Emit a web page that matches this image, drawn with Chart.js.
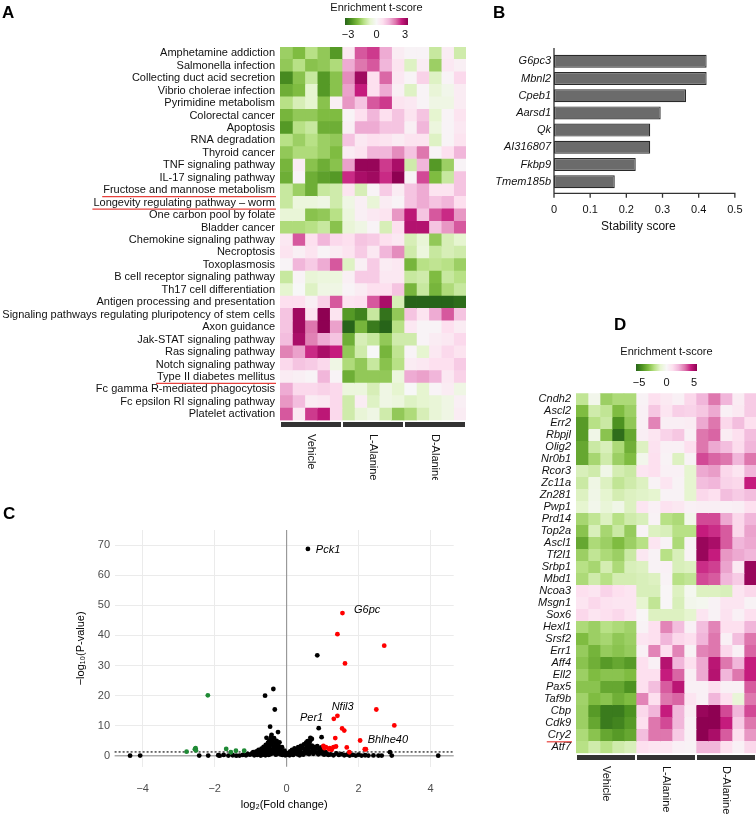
<!DOCTYPE html>
<html><head><meta charset="utf-8">
<script src="https://cdn.jsdelivr.net/npm/chart.js@4.4.1/dist/chart.umd.min.js"></script>
<style>
html,body{margin:0;padding:0;background:#fff;}
body{width:756px;height:815px;position:relative;overflow:hidden;}
canvas{position:absolute;}
</style></head><body>
<canvas id="cA" width="470" height="480" style="left:0;top:0"></canvas>
<canvas id="cB" width="286" height="250" style="left:470px;top:0"></canvas>
<canvas id="cC" width="470" height="335" style="left:0;top:480px"></canvas>
<canvas id="cD" width="276" height="515" style="left:480px;top:300px"></canvas>
<script>
// ---------------- DATA ----------------
const groups = ['Vehicle', 'L-Alanine', 'D-Alanine'];

const pathwaysA = ['Amphetamine addiction','Salmonella infection','Collecting duct acid secretion','Vibrio cholerae infection','Pyrimidine metabolism','Colorectal cancer','Apoptosis','RNA degradation','Thyroid cancer','TNF signaling pathway','IL-17 signaling pathway','Fructose and mannose metabolism','Longevity regulating pathway \u2013 worm','One carbon pool by folate','Bladder cancer','Chemokine signaling pathway','Necroptosis','Toxoplasmosis','B cell receptor signaling pathway','Th17 cell differentiation','Antigen processing and presentation','Signaling pathways regulating pluripotency of stem cells','Axon guidance','Jak-STAT signaling pathway','Ras signaling pathway','Notch signaling pathway','Type II diabetes mellitus','Fc gamma R-mediated phagocytosis','Fc epsilon RI signaling pathway','Platelet activation'];
const underlinedA = ['Fructose and mannose metabolism','Longevity regulating pathway \u2013 worm','Type II diabetes mellitus'];

const A_vehicle = [[-1.5,-1.8,-1.2,-1.6,-2.3],[-1.6,-1.2,-1.7,-1.6,-1.3],[-2.5,-1.7,-1.0,-2.3,-1.7],[-2.0,-1.8,-0.6,-2.3,-1.7],[-1.2,-0.8,-0.6,-1.7,0.2],[-1.9,-1.6,-1.6,-1.8,-1.8],[-2.3,-1.2,-1.0,-2.0,-2.0],[-1.2,-1.5,-1.2,-1.5,-1.6],[-1.6,-1.3,-1.3,-1.5,-1.8],[-1.9,0.3,-1.7,-2.0,-1.7],[-2.0,0.1,-2.0,-2.2,-2.3],[-1.0,-1.5,-2.0,-1.0,-0.9],[-1.0,-0.4,-0.4,-0.3,-0.9],[-0.5,-0.5,-1.7,-1.6,-1.2],[-1.3,-1.3,-1.2,-1.0,-1.7],[0.4,2.0,0.6,1.2,0.7],[0.5,0.2,0.5,0.1,0.3],[0.1,1.2,0.9,1.3,2.0],[-1.0,0.1,-0.5,-0.4,-0.4],[-0.6,0.0,-0.7,-0.3,-0.3],[0.6,0.6,0.2,0.8,2.0],[1.0,2.8,0.5,3.0,0.5],[1.0,2.8,1.8,3.0,1.4],[1.1,2.7,1.7,1.3,1.0],[1.7,1.4,2.3,2.7,2.4],[0.7,1.0,0.9,0.7,-0.3],[0.3,0.2,0.1,1.2,0.1],[1.3,0.7,0.7,0.8,0.7],[1.5,1.1,0.3,0.4,0.7],[2.0,0.4,2.2,2.5,0.7]];
const A_lAlanine = [[0.4,2.0,2.2,1.3,0.3],[1.3,1.8,2.0,1.2,0.5],[1.6,2.8,0.6,1.9,0.4],[1.4,2.4,0.6,1.3,0.2],[1.5,1.0,2.0,2.2,0.5],[0.1,0.6,1.2,0.6,1.0],[0.2,1.3,1.3,1.0,1.0],[1.0,0.4,0.6,0.5,0.3],[0.3,0.5,1.2,1.2,1.6],[1.4,2.9,2.9,2.2,2.7],[2.3,2.7,2.8,2.3,3.0],[0.5,-0.8,0.1,0.9,0.3],[-0.3,0.2,-0.5,0.3,0.1],[-0.4,0.2,0.4,0.5,1.5],[-0.5,-0.3,0.1,-0.8,0.6],[0.6,1.0,0.9,0.6,0.4],[0.5,0.9,0.4,1.2,1.6],[-0.7,0.2,0.9,0.3,0.4],[0.2,0.9,0.9,0.4,0.4],[0.1,0.3,0.6,0.6,1.0],[0.5,0.6,2.0,2.7,-0.8],[-2.3,-2.6,-1.0,-2.8,-1.6],[-3.0,-1.9,-2.7,-3.0,-1.2],[-2.0,-0.8,-1.0,-1.6,-0.9],[-1.6,-0.9,0.0,-1.9,-1.1],[-1.3,-1.6,-1.0,-1.7,-1.2],[-2.0,-1.6,-1.6,-1.6,-0.4],[-0.4,-0.4,-0.8,-0.3,-0.6],[-0.9,0.3,-0.7,-0.3,-0.4],[-0.9,-0.5,-0.3,-0.9,-1.6]];
const A_dAlanine = [[0.1,0.1,-1.0,0.3,-0.9],[-0.7,0.3,-1.5,0.4,0.2],[0.1,0.8,-0.7,0.1,0.7],[-0.7,0.1,-0.5,-0.2,0.3],[0.4,0.1,-0.3,-0.3,0.3],[0.5,1.0,-0.6,0.1,0.5],[0.2,1.2,-0.4,0.1,0.4],[0.5,0.5,-0.7,0.1,0.5],[1.0,1.8,0.1,0.6,1.2],[-0.9,1.2,-2.3,-1.5,0.1],[0.1,2.1,-1.8,-1.0,1.0],[1.0,1.3,0.5,0.5,1.0],[1.0,1.3,1.0,1.2,0.6],[2.5,1.0,2.0,2.3,1.5],[2.6,2.6,1.0,1.5,2.0],[-0.8,-0.5,-1.6,-0.8,-0.6],[-0.9,-0.4,-1.0,-0.8,-0.9],[-1.9,-1.2,-1.1,-1.2,-1.5],[-1.0,-0.9,-1.8,-1.0,-1.2],[-1.9,-1.0,-1.9,-1.3,-1.0],[-3.0,-3.0,-3.0,-3.0,-2.9],[1.0,0.5,1.3,2.0,1.0],[0.4,0.1,0.1,0.6,0.3],[-0.9,0.1,0.3,0.4,0.7],[0.1,-0.6,0.4,0.7,0.5],[0.3,0.4,0.6,0.6,0.9],[1.3,1.4,1.2,0.4,0.8],[0.0,-0.6,0.1,0.3,-0.3],[-0.7,-0.6,-0.5,-0.3,0.2],[-1.3,-0.8,-0.5,-0.3,0.3]];
const limitA = 3;
const legendTicksA = [-3, 0, 3];

const genesB = ['G6pc3','Mbnl2','Cpeb1','Aarsd1','Qk','AI316807','Fkbp9','Tmem185b'];
const stabilityB = [0.422,0.422,0.365,0.295,0.266,0.266,0.226,0.168];
const ticksB = [0, 0.1, 0.2, 0.3, 0.4, 0.5];

const volcanoBlack = [[0.59,68.7],[0.85,33.4],[-0.37,22.2],[-0.60,20.0],[-0.33,15.4],[-0.46,9.7],[-0.24,7.9],[0.89,9.2],[0.97,6.2],[0.66,6.0],[0.70,5.6],[-0.56,6.0],[-0.42,7.0],
[-4.35,0.05],[-4.07,0.1],[-2.43,0.1],[-2.18,0.1],[-1.90,0.2],[-1.86,0.05],[-1.75,0.3],[-1.62,0.1],[-1.50,0.2],[-1.40,0.05],[-1.31,0.1],[-1.22,0.3],[-1.13,0.2],[-1.08,0.6],
[-1.02,0.4],[-0.96,0.8],[-0.93,1.2],[-0.90,0.2],[-0.87,0.6],[-0.84,1.5],[-0.82,0.3],[-0.80,1.0],[-0.78,2.0],[-0.76,0.5],[-0.74,1.3],[-0.72,0.1],[-0.70,2.4],[-0.69,0.8],[-0.67,1.7],[-0.65,0.4],[-0.64,3.0],[-0.62,1.1],[-0.60,2.2],[-0.59,0.2],[-0.58,3.6],[-0.56,1.5],[-0.55,0.7],[-0.54,2.8],[-0.52,4.3],[-0.51,1.9],[-0.50,0.3],[-0.49,3.3],[-0.48,5.1],[-0.47,2.5],[-0.46,1.2],[-0.45,4.0],[-0.44,0.6],[-0.43,6.3],[-0.42,3.7],[-0.41,2.1],[-0.40,5.5],[-0.39,1.6],[-0.38,4.6],[-0.37,0.9],[-0.36,3.0],[-0.35,5.9],[-0.34,2.4],[-0.33,1.3],[-0.32,4.2],[-0.31,3.5],[-0.30,0.4],[-0.29,2.7],[-0.28,5.0],[-0.27,1.8],[-0.26,3.9],[-0.25,0.8],[-0.24,2.2],[-0.22,3.2],[-0.21,1.1],[-0.20,4.5],[-0.18,0.5],[-0.17,2.0],[-0.15,1.4],[-0.13,2.9],[-0.12,0.3],[-0.10,1.0],[-0.08,0.6],[-0.06,1.7],[-0.04,0.2],[-0.02,0.9],
[0.02,0.4],[0.05,1.0],[0.08,0.2],[0.10,1.5],[0.12,0.6],[0.15,2.0],[0.18,0.3],[0.20,1.2],[0.22,2.5],[0.25,0.8],[0.27,1.8],[0.30,0.5],[0.32,2.9],[0.34,1.4],[0.36,0.2],[0.38,2.2],[0.40,3.3],[0.42,1.0],[0.44,2.7],[0.46,0.4],[0.48,3.8],[0.50,1.7],[0.52,2.4],[0.54,4.4],[0.55,0.9],[0.57,3.1],[0.58,4.9],[0.60,2.0],[0.61,3.6],[0.62,0.6],[0.64,4.6],[0.65,2.8],[0.66,5.3],[0.68,1.3],[0.70,3.4],[0.72,2.3],[0.74,0.7],[0.76,3.0],[0.78,1.6],[0.80,2.6],[0.83,1.1],[0.85,3.2],[0.88,0.5],[0.90,2.1],[0.93,1.4],[0.96,2.8],[0.98,0.8],[1.00,1.9],[1.04,0.4],[1.08,1.2],[1.12,0.6],[1.16,0.3],
[1.22,0.5],[1.30,0.2],[1.38,0.8],[1.45,0.3],[1.52,0.6],[1.60,0.2],[1.68,0.4],[1.75,0.1],[1.84,0.3],[1.92,0.1],[2.00,0.4],[2.08,0.1],[2.18,0.2],[2.27,0.1],[2.41,0.15],[2.55,0.1],[2.64,0.1],[2.87,1.22],[2.92,0.1],[4.21,0.05]];
const volcanoRed = [[1.55,47.4],[1.41,40.4],[2.71,36.6],[1.62,30.7],[2.49,15.4],[1.41,13.3],[1.31,12.3],[2.99,10.1],[1.54,9.1],[1.60,8.4],[1.35,5.9],[2.04,5.1],[1.02,3.3],[1.05,2.55],[1.09,2.9],[1.18,2.2],[1.20,2.55],[1.25,2.0],[1.30,2.9],[1.37,3.1],[1.67,2.8],[1.74,1.2],[2.17,2.2],[2.20,2.2]];
const volcanoGreen = [[-2.19,20.1],[-2.78,1.4],[-2.55,2.2],[-2.52,1.8],[-2.53,2.55],[-1.68,2.3],[-1.55,1.2],[-1.41,1.7],[-1.18,1.7]];
const volcanoLabels = [['Pck1',0.81,68.5],['G6pc',1.87,48.5],['Nfil3',1.25,16.4],['Per1',0.37,12.6],['Bhlhe40',2.25,5.3]];
const pThreshold = 1.3;
const ticksCx = [-4,-2,0,2,4];
const ticksCy = [0,10,20,30,40,50,60,70];

const genesD = ['Cndh2','Ascl2','Err2','Rbpjl','Olig2','Nr0b1','Rcor3','Zc11a','Zn281','Pwp1','Prd14','Top2a','Ascl1','Tf2l1','Srbp1','Mbd1','Ncoa3','Msgn1','Sox6','Hexl1','Srsf2','Err1','Aff4','Ell2','Pax5','Taf9b','Cbp','Cdk9','Cry2','Atf7'];
const underlinedD = ['Cry2'];
const D_vehicle = [[-1.8,-0.3,-2.5,-2.2,-2.2],[-3.0,-1.5,-1.8,-3.0,-2.5],[-3.8,-2.0,-1.6,-4.0,-2.7],[-3.8,-0.4,-2.8,-4.8,-3.5],[-3.5,-1.6,-1.3,-2.2,-3.3],[-3.5,-2.3,-1.5,-2.5,-3.0],[-1.3,-1.5,-0.4,-1.4,-1.6],[-1.6,-0.5,-1.2,-1.8,-1.5],[-1.2,-0.4,-1.0,-1.4,-1.2],[-1.0,-0.3,-0.8,-0.4,-1.2],[-2.3,-1.8,-1.2,-2.0,-1.5],[-2.8,-1.3,-2.3,-1.6,-2.6],[-3.5,-2.2,-2.5,-3.0,-2.5],[-2.5,-1.8,-2.2,-2.5,-1.6],[-2.0,-2.3,-1.4,-2.2,-1.3],[-2.2,-1.5,-2.0,-1.4,-1.4],[1.0,0.8,1.3,1.0,0.8],[0.8,1.2,0.9,0.8,0.8],[1.2,0.8,1.0,1.2,0.8],[-2.2,-2.5,-2.0,-2.2,-2.4],[-3.0,-2.5,-2.3,-2.7,-2.5],[-2.6,-3.2,-2.6,-2.8,-2.6],[-2.8,-3.3,-3.8,-3.5,-3.8],[-2.5,-3.0,-2.8,-2.8,-3.0],[-2.8,-2.8,-3.5,-3.5,-4.0],[-2.4,-3.0,-2.8,-3.3,-3.0],[-2.5,-3.8,-4.5,-4.5,-4.0],[-2.5,-3.5,-4.5,-4.3,-3.8],[-2.2,-2.8,-3.5,-3.8,-3.5],[-2.0,-1.5,-2.0,-1.5,-1.3]];
const D_lAlanine = [[0.2,1.0,0.6,0.3,1.2],[0.3,1.6,0.8,1.4,1.3],[0.3,2.8,0.4,0.4,0.5],[0.4,0.8,1.3,1.6,0.3],[-1.2,0.9,0.3,0.3,1.0],[-0.3,1.0,0.2,-1.2,0.2],[0.8,1.0,0.3,0.3,-1.0],[-1.2,0.2,0.8,0.2,-1.0],[-1.1,-1.0,0.2,0.2,-1.0],[0.8,0.3,0.9,0.7,0.3],[-1.3,0.2,-2.0,-2.2,-0.3],[0.2,-1.2,-1.3,-2.0,-2.0],[-2.0,0.8,0.2,-2.2,0.2],[0.7,0.2,-2.0,-1.3,0.2],[-1.2,0.2,0.3,-1.3,-1.2],[-1.3,-1.2,0.2,-2.0,-1.8],[-1.3,-1.3,0.1,-1.2,-0.2],[-1.0,-1.8,0.1,-1.3,-0.3],[0.1,-1.2,-1.2,-1.2,-1.0],[0.2,1.0,2.8,1.8,0.3],[0.8,1.0,2.0,1.2,1.0],[0.3,2.8,1.0,2.8,0.2],[1.0,0.3,4.3,2.0,1.0],[1.0,1.0,4.0,3.2,0.4],[1.0,1.8,3.3,4.2,0.3],[2.8,1.0,3.0,3.2,0.8],[1.2,2.0,4.0,2.0,0.5],[1.0,3.0,3.5,2.0,0.3],[1.8,3.0,3.0,1.5,0.3],[1.0,0.8,0.8,0.3,0.2]];
const D_dAlanine = [[2.0,3.0,2.0,0.5,1.5],[1.6,2.2,0.3,0.6,1.5],[2.2,3.0,1.2,1.8,1.0],[3.0,3.2,0.5,1.0,1.8],[3.0,2.2,1.8,1.1,2.0],[3.5,3.2,3.0,2.0,3.0],[2.2,2.4,1.2,0.8,2.0],[1.8,2.0,1.3,1.2,4.0],[1.2,1.0,1.8,1.5,1.8],[0.4,0.4,0.3,0.4,1.0],[3.5,3.5,2.2,1.2,2.0],[4.0,3.8,3.3,1.2,2.3],[4.8,4.5,3.3,2.0,2.2],[4.8,4.0,2.5,2.2,2.0],[3.8,3.6,2.3,0.6,4.8],[3.5,3.3,2.0,1.5,4.8],[-1.2,-1.2,-1.3,0.8,1.2],[-0.2,0.2,0.8,0.8,0.2],[0.8,0.2,0.9,0.3,1.0],[1.8,2.8,1.0,1.0,2.0],[2.0,3.0,0.3,1.8,3.0],[2.8,3.0,1.2,0.3,3.2],[2.2,4.2,3.0,2.0,4.0],[2.2,4.3,2.0,3.0,4.0],[0.3,1.0,0.3,0.3,3.3],[0.3,2.0,1.0,-0.8,3.0],[4.8,5.0,3.5,2.0,3.5],[5.0,5.2,4.0,1.5,3.0],[5.0,4.5,3.3,1.0,2.5],[2.0,2.0,1.0,0.3,1.2]];
const limitD = 5;
const legendTicksD = [-5, 0, 5];

// ---------------- HELPERS ----------------
const FONT = '"Liberation Sans", Arial, Helvetica, sans-serif';
Chart.defaults.font.family = FONT;
const STOPS = ['#276419','#4d9221','#7fbc41','#b8e186','#e6f5d0','#f7f7f7','#fde0ef','#f1b6da','#de77ae','#c51b7d','#8e0152'];
function hexRGB(h){return [parseInt(h.slice(1,3),16),parseInt(h.slice(3,5),16),parseInt(h.slice(5,7),16)];}
function piyg(v, lim){
  const t = (Math.max(-lim, Math.min(lim, v)) / lim + 1) / 2 * 10;
  const i = Math.min(9, Math.floor(t)), f = t - i;
  const a = hexRGB(STOPS[i]), b = hexRGB(STOPS[i+1]);
  return 'rgb(' + a.map((c,k)=>Math.round(c + (b[k]-c)*f)).join(',') + ')';
}
function heatDatasets(groupArrays, lim){
  const cols = [];
  groupArrays.forEach(g => { for (let j = 0; j < g[0].length; j++) cols.push(g.map(r => r[j])); });
  return cols.map((col, k) => ({
    label: 'sample ' + (k+1), data: col.map(() => 1),
    backgroundColor: col.map(v => piyg(v, lim)),
    borderWidth: 0, barPercentage: 1, categoryPercentage: 1, stack: 'heat'
  }));
}
function fmtMinus(v){ return v < 0 ? '\u2212' + Math.abs(v) : String(v); }

function drawColorbar(ctx, x0, y0, w, h, lim, ticks, title, titleY, tickY){
  const g = ctx.createLinearGradient(x0, 0, x0 + w, 0);
  STOPS.forEach((c, i) => g.addColorStop(i / 10, c));
  ctx.fillStyle = g; ctx.fillRect(x0, y0, w, h);
  ctx.fillStyle = '#111'; ctx.font = '11px ' + FONT; ctx.textAlign = 'center'; ctx.textBaseline = 'middle';
  ctx.fillText(title, x0 + w / 2, titleY);
  ticks.forEach(v => ctx.fillText(fmtMinus(v), x0 + 3 + (v + lim) / (2 * lim) * (w - 6), tickY));
}
function drawGroups(ctx, xs, yTop, h, labelY){
  ctx.font = '11px ' + FONT;
  groups.forEach((gname, gi) => {
    const a = xs.getPixelForValue(gi * 5), b = xs.getPixelForValue(gi * 5 + 5);
    ctx.fillStyle = '#333';
    ctx.fillRect(a + 1, yTop, b - a - 2, h);
    ctx.save(); ctx.translate((a + b) / 2, labelY); ctx.rotate(Math.PI / 2);
    ctx.fillStyle = '#111'; ctx.textAlign = 'left'; ctx.textBaseline = 'middle';
    ctx.fillText(gname, 0, 0); ctx.restore();
  });
}
function drawUnderlines(ctx, ys, labels, which, font, rightX){
  ctx.font = font; ctx.strokeStyle = '#e8413c'; ctx.lineWidth = 1.2;
  which.forEach(name => {
    const i = labels.indexOf(name); const yc = ys.getPixelForValue(i) + 6.5;
    const w = ctx.measureText(name).width;
    ctx.beginPath(); ctx.moveTo(rightX - w - 1, yc); ctx.lineTo(rightX + 1, yc); ctx.stroke();
  });
}
function letter(ctx, t, x, y){
  ctx.fillStyle = '#000'; ctx.font = 'bold 17px ' + FONT; ctx.textAlign = 'left'; ctx.textBaseline = 'middle';
  ctx.fillText(t, x, y);
}

// ---------------- PANEL A ----------------
new Chart(document.getElementById('cA'), {
  type: 'bar',
  data: { labels: pathwaysA, datasets: heatDatasets([A_vehicle, A_lAlanine, A_dAlanine], limitA) },
  options: {
    indexAxis: 'y', responsive: false, animation: false,
    layout: { padding: { top: 47, bottom: 59.5, left: 0, right: 4 } },
    plugins: { legend: { display: false }, tooltip: { enabled: false } },
    scales: {
      x: { type: 'linear', stacked: true, min: 0, max: 15, display: false },
      y: { stacked: true, grid: { display: false, drawTicks: false }, border: { display: false },
           ticks: { autoSkip: false, color: '#111', font: { size: 11 }, padding: 5 },
           afterFit(s) { s.width = 280; } }
    }
  },
  plugins: [{ id: 'extrasA', afterDraw(chart) {
    const { ctx, scales: { x, y } } = chart; ctx.save();
    letter(ctx, 'A', 2, 13);
    drawColorbar(ctx, 345, 18, 63, 7, limitA, legendTicksA, 'Enrichment t-score', 8, 35);
    drawGroups(ctx, x, 422, 5, 434);
    drawUnderlines(ctx, y, pathwaysA, underlinedA, '11px ' + FONT, 275);
    ctx.restore();
  } }]
});

// ---------------- PANEL B ----------------
new Chart(document.getElementById('cB'), {
  type: 'bar',
  data: { labels: genesB, datasets: [{ data: stabilityB, backgroundColor: '#6b6b6b', borderColor: '#2a2a2a',
          borderWidth: 1.2, borderSkipped: false, barPercentage: 0.756, categoryPercentage: 1 }] },
  options: {
    indexAxis: 'y', responsive: false, animation: false,
    layout: { padding: { top: 52.7, bottom: 0, left: 0, right: 5.3 } },
    plugins: { legend: { display: false }, tooltip: { enabled: false } },
    scales: {
      x: { type: 'linear', min: 0, max: 0.5, grid: { display: false, drawTicks: false }, border: { display: false },
           afterBuildTicks(s) { s.ticks = ticksB.map(v => ({ value: v })); },
           ticks: { color: '#111', font: { size: 11 }, padding: 13.5, callback: v => v === 0 ? '0' : v.toFixed(1) },
           afterFit(s) { s.height = 59.7; } },
      y: { grid: { display: false, drawTicks: false }, border: { display: false },
           ticks: { color: '#111', font: { size: 11, style: 'italic' }, padding: 3 },
           afterFit(s) { s.width = 84; } }
    }
  },
  plugins: [{ id: 'extrasB', afterDraw(chart) {
    const { ctx, scales: { x }, chartArea: ca } = chart; ctx.save();
    letter(ctx, 'B', 23, 13);
    const axY = ca.bottom + 3;
    ctx.strokeStyle = '#333'; ctx.lineWidth = 1.3;
    ctx.beginPath(); ctx.moveTo(ca.left, ca.top - 4.7); ctx.lineTo(ca.left, axY + 4.5);
    ctx.moveTo(ca.left, axY); ctx.lineTo(x.getPixelForValue(0.5) + 0.7, axY);
    ticksB.forEach(v => { const px = x.getPixelForValue(v); ctx.moveTo(px, axY); ctx.lineTo(px, axY + 4.5); });
    ctx.stroke();
    ctx.fillStyle = '#111'; ctx.font = '12px ' + FONT; ctx.textAlign = 'center'; ctx.textBaseline = 'middle';
    ctx.fillText('Stability score', (ca.left + ca.right) / 2 - 6, 227);
    ctx.restore();
  } }]
});

// ---------------- PANEL C ----------------
const pts = arr => arr.map(p => ({ x: p[0], y: p[1] }));
new Chart(document.getElementById('cC'), {
  type: 'scatter',
  data: { datasets: [
    { data: pts(volcanoRed), backgroundColor: '#ff0000', pointRadius: 2.4, borderWidth: 0, order: 1 },
    { data: pts(volcanoGreen), backgroundColor: '#1f8a35', pointRadius: 2.4, borderWidth: 0, order: 2 },
    { data: pts(volcanoBlack), backgroundColor: '#000', pointRadius: 2.4, borderWidth: 0, order: 3 }
  ] },
  options: {
    responsive: false, animation: false,
    layout: { padding: { top: 50, bottom: 0, left: 0, right: 16.3 } },
    plugins: { legend: { display: false }, tooltip: { enabled: false } },
    scales: {
      x: { type: 'linear', min: -4.78, max: 4.64,
           afterBuildTicks(s) { s.ticks = ticksCx.map(v => ({ value: v })); },
           ticks: { color: '#4d4d4d', font: { size: 11 }, padding: 15.5, callback: v => fmtMinus(v) },
           grid: { color: '#ebebeb', lineWidth: 1, drawTicks: false }, border: { display: false },
           afterFit(s) { s.height = 48.3; } },
      y: { type: 'linear', min: -3.6, max: 75,
           afterBuildTicks(s) { s.ticks = ticksCy.map(v => ({ value: v })); },
           ticks: { color: '#4d4d4d', font: { size: 11 }, padding: 4.5 },
           grid: { color: '#ebebeb', lineWidth: 1, drawTicks: false }, border: { display: false },
           afterFit(s) { s.width = 114.6; } }
    }
  },
  plugins: [{ id: 'extrasC',
    beforeDatasetsDraw(chart) {
      const { ctx, scales: { x, y }, chartArea: ca } = chart; ctx.save();
      ctx.strokeStyle = '#8a8a8a'; ctx.lineWidth = 1;
      const x0 = x.getPixelForValue(0), y0 = y.getPixelForValue(0);
      ctx.beginPath(); ctx.moveTo(x0, ca.top); ctx.lineTo(x0, ca.bottom);
      ctx.moveTo(ca.left, y0); ctx.lineTo(ca.right, y0); ctx.stroke();
      const yt = y.getPixelForValue(pThreshold);
      ctx.strokeStyle = '#000'; ctx.setLineDash([2, 2]); ctx.lineWidth = 1.1;
      ctx.beginPath(); ctx.moveTo(ca.left, yt); ctx.lineTo(ca.right, yt); ctx.stroke();
      ctx.restore();
    },
    afterDraw(chart) {
      const { ctx, scales: { x, y }, chartArea: ca } = chart; ctx.save();
      letter(ctx, 'C', 3, 34);
      ctx.fillStyle = '#000'; ctx.font = 'italic 11px ' + FONT; ctx.textAlign = 'left'; ctx.textBaseline = 'middle';
      volcanoLabels.forEach(l => ctx.fillText(l[0], x.getPixelForValue(l[1]), y.getPixelForValue(l[2])));
      ctx.font = '11px ' + FONT; ctx.textAlign = 'center';
      ctx.fillText('log\u2082(Fold change)', (ca.left + ca.right) / 2, 325);
      ctx.save(); ctx.translate(81, (ca.top + ca.bottom) / 2); ctx.rotate(-Math.PI / 2);
      ctx.fillText('\u2212log\u2081\u2080(P-value)', 0, 0); ctx.restore();
      ctx.restore();
    } }]
});

// ---------------- PANEL D ----------------
new Chart(document.getElementById('cD'), {
  type: 'bar',
  data: { labels: genesD, datasets: heatDatasets([D_vehicle, D_lAlanine, D_dAlanine], limitD) },
  options: {
    indexAxis: 'y', responsive: false, animation: false,
    layout: { padding: { top: 93.3, bottom: 61.7, left: 0, right: 0 } },
    plugins: { legend: { display: false }, tooltip: { enabled: false } },
    scales: {
      x: { type: 'linear', stacked: true, min: 0, max: 15, display: false },
      y: { stacked: true, grid: { display: false, drawTicks: false }, border: { display: false },
           ticks: { autoSkip: false, color: '#111', font: { size: 11, style: 'italic' }, padding: 5 },
           afterFit(s) { s.width = 96; } }
    }
  },
  plugins: [{ id: 'extrasD', afterDraw(chart) {
    const { ctx, scales: { x, y } } = chart; ctx.save();
    letter(ctx, 'D', 134, 25);
    drawColorbar(ctx, 156, 64, 61, 7, limitD, legendTicksD, 'Enrichment t-score', 52, 83);
    drawGroups(ctx, x, 455, 5, 466);
    drawUnderlines(ctx, y, genesD, underlinedD, 'italic 11px ' + FONT, 91);
    ctx.restore();
  } }]
});
</script>
</body></html>
